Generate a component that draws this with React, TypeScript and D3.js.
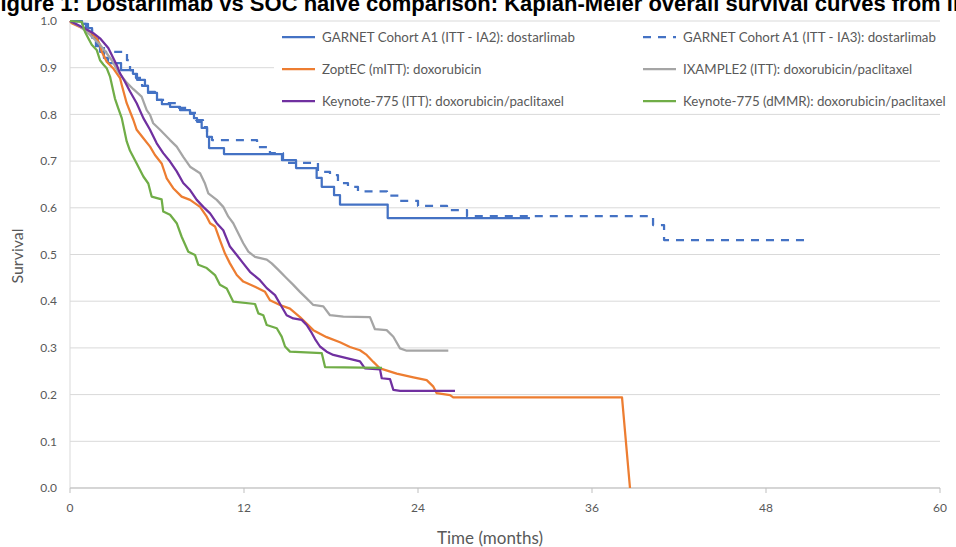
import React from "react";
import * as d3 from "d3";

const title = "Figure 1: Dostarlimab vs SOC naive comparison: Kaplan-Meier overall survival curves from literature";
const xTicks = [0, 12, 24, 36, 48, 60];
const yTicks = [0, 0.1, 0.2, 0.3, 0.4, 0.5, 0.6, 0.7, 0.8, 0.9, 1.0];

// [month, survival]
const garnetIA2: [number, number][] = [
  [0, 1.0], [0.83, 0.994], [1.24, 0.985], [1.52, 0.964], [1.79, 0.946], [2.07, 0.934], [2.34, 0.921],
  [2.62, 0.91], [3.52, 0.895], [4.34, 0.887], [4.62, 0.874], [5.17, 0.861], [5.38, 0.846], [6.0, 0.831],
  [6.34, 0.822], [6.9, 0.816], [7.59, 0.809], [8.28, 0.801], [8.55, 0.792], [8.76, 0.784], [9.08, 0.771],
  [9.45, 0.752], [9.59, 0.728], [10.62, 0.715], [14.62, 0.702], [15.59, 0.685], [17.01, 0.664],
  [17.36, 0.645], [18.21, 0.627], [18.62, 0.607], [21.91, 0.578], [31.72, 0.578],
];
const garnetIA3: [number, number][] = [
  [0, 1.0], [0.69, 0.994], [1.1, 0.981], [1.52, 0.964], [1.93, 0.946], [2.34, 0.934], [3.93, 0.916],
  [4.14, 0.895], [4.55, 0.878], [4.97, 0.861], [5.38, 0.848], [5.86, 0.831], [6.55, 0.824], [7.45, 0.814],
  [8.28, 0.803], [8.69, 0.788], [9.17, 0.773], [9.45, 0.762], [9.59, 0.752], [9.79, 0.745], [12.9, 0.73],
  [13.79, 0.717], [14.69, 0.696], [17.1, 0.677], [17.93, 0.67], [18.48, 0.653], [19.17, 0.645],
  [19.86, 0.635], [21.86, 0.626], [22.76, 0.615], [24.0, 0.604], [26.0, 0.595], [27.38, 0.582],
  [40.21, 0.563], [40.97, 0.531], [50.83, 0.531],
];
const zoptec: [number, number][] = [
  [0, 1.0], [0.12, 0.995], [1.38, 0.977], [1.84, 0.963], [2.07, 0.949], [2.19, 0.934], [2.53, 0.913],
  [2.97, 0.899], [3.45, 0.878], [3.57, 0.863], [3.91, 0.824], [4.37, 0.788], [4.6, 0.767], [5.06, 0.749],
  [5.52, 0.731], [5.86, 0.713], [6.32, 0.695], [6.55, 0.674], [6.67, 0.663], [7.12, 0.642], [7.7, 0.624],
  [8.28, 0.617], [8.97, 0.602], [9.43, 0.581], [9.66, 0.567], [10.0, 0.56], [10.34, 0.531], [10.69, 0.502],
  [11.03, 0.481], [11.5, 0.456], [11.95, 0.442], [12.76, 0.431], [13.45, 0.42], [13.79, 0.402],
  [14.48, 0.392], [15.17, 0.384], [15.86, 0.366], [16.32, 0.352], [16.78, 0.338], [17.7, 0.323],
  [18.62, 0.312], [19.31, 0.302], [20.0, 0.295], [20.46, 0.285], [20.92, 0.27], [21.38, 0.256],
  [22.53, 0.245], [23.68, 0.237], [24.6, 0.231], [25.06, 0.217], [25.29, 0.203], [26.21, 0.199],
  [26.43, 0.194], [38.07, 0.194], [38.62, 0.0],
];
const ixample2: [number, number][] = [
  [0, 1.0], [0.69, 0.988], [1.15, 0.977], [1.61, 0.963], [2.07, 0.949], [2.53, 0.931], [2.88, 0.916],
  [3.33, 0.891], [3.91, 0.868], [4.37, 0.854], [4.94, 0.838], [5.29, 0.809], [5.52, 0.799], [5.74, 0.781],
  [6.21, 0.767], [6.9, 0.745], [7.36, 0.731], [7.81, 0.709], [8.28, 0.688], [8.97, 0.674], [9.31, 0.652],
  [9.54, 0.631], [10.12, 0.617], [10.57, 0.602], [10.92, 0.581], [11.26, 0.567], [11.5, 0.552],
  [11.95, 0.524], [12.3, 0.506], [12.76, 0.495], [13.57, 0.489], [13.91, 0.481], [14.37, 0.467],
  [14.94, 0.449], [15.4, 0.435], [15.86, 0.42], [16.32, 0.406], [16.78, 0.392], [17.47, 0.389],
  [17.93, 0.37], [18.85, 0.367], [20.69, 0.366], [21.03, 0.34], [21.84, 0.338], [22.3, 0.324],
  [22.76, 0.299], [23.22, 0.294], [26.09, 0.294],
];
const keynoteITT: [number, number][] = [
  [0, 1.0], [1.03, 0.984], [1.61, 0.974], [2.07, 0.963], [2.64, 0.942], [2.99, 0.92], [3.22, 0.906],
  [3.45, 0.888], [3.79, 0.87], [4.14, 0.849], [4.6, 0.824], [5.06, 0.792], [5.52, 0.767], [5.98, 0.738],
  [6.43, 0.717], [6.9, 0.699], [7.36, 0.678], [7.81, 0.653], [8.28, 0.638], [8.74, 0.617], [9.19, 0.602],
  [9.66, 0.588], [10.12, 0.567], [10.57, 0.552], [11.03, 0.517], [11.5, 0.499], [11.95, 0.481],
  [12.41, 0.463], [13.1, 0.445], [13.57, 0.428], [14.14, 0.413], [14.6, 0.388], [14.94, 0.37],
  [15.4, 0.363], [15.98, 0.36], [16.32, 0.349], [16.67, 0.332], [16.9, 0.319], [17.24, 0.303],
  [17.7, 0.292], [18.16, 0.285], [19.08, 0.278], [20.0, 0.271], [20.34, 0.256], [21.38, 0.254],
  [21.5, 0.235], [22.07, 0.233], [22.3, 0.21], [22.76, 0.208], [26.55, 0.208],
];
const keynoteDMMR: [number, number][] = [
  [0, 1.0], [0.81, 0.998], [1.03, 0.977], [1.26, 0.963], [1.5, 0.949], [1.84, 0.938], [2.07, 0.916],
  [2.3, 0.907], [2.53, 0.899], [2.76, 0.881], [2.94, 0.856], [3.1, 0.834], [3.33, 0.813], [3.57, 0.792],
  [3.91, 0.742], [4.14, 0.722], [4.6, 0.695], [5.06, 0.667], [5.4, 0.652], [5.63, 0.624], [6.32, 0.618],
  [6.43, 0.592], [6.9, 0.585], [7.36, 0.567], [7.7, 0.538], [8.16, 0.506], [8.62, 0.499], [8.85, 0.478],
  [9.43, 0.471], [10.0, 0.456], [10.34, 0.435], [10.81, 0.427], [11.26, 0.399], [12.76, 0.394],
  [12.99, 0.374], [13.33, 0.37], [13.57, 0.349], [14.26, 0.342], [14.6, 0.324], [14.83, 0.303],
  [15.17, 0.292], [17.36, 0.289], [17.59, 0.259], [21.52, 0.257],
];

const seriesNames = [
  "GARNET Cohort A1 (ITT - IA2): dostarlimab",
  "GARNET Cohort A1 (ITT - IA3): dostarlimab",
  "ZoptEC (mITT): doxorubicin",
  "IXAMPLE2 (ITT): doxorubicin/paclitaxel",
  "Keynote-775 (ITT): doxorubicin/paclitaxel",
  "Keynote-775 (dMMR): doxorubicin/paclitaxel",
];
const seriesData = [garnetIA2, garnetIA3, zoptec, ixample2, keynoteITT, keynoteDMMR];
const seriesColors = ["#4472C4", "#4472C4", "#ED7D31", "#A5A5A5", "#7030A0", "#70AD47"];
const seriesDash = [null, "8,7", null, null, null, null];
const seriesStep = [true, true, false, false, false, false];

const W = 956;
const H = 547;
const FONT = "Lato, 'Open Sans', sans-serif";

export default function App() {
  const x = d3.scaleLinear().domain([0, 60]).range([70, 940]);
  const y = d3.scaleLinear().domain([0, 1]).range([488, 21]);

  const mkLine = (step: boolean) =>
    d3
      .line<[number, number]>()
      .x((d) => x(d[0]))
      .y((d) => y(d[1]))
      .curve(step ? d3.curveStepAfter : d3.curveLinear);

  const legendPos = [
    [282, 37],
    [643, 37],
    [282, 69],
    [643, 69],
    [282, 101],
    [643, 101],
  ];

  return (
    <svg
      width={W}
      height={H}
      style={{ position: "absolute", left: 0, top: 0, background: "#fff" }}
    >
      <rect x={0} y={0} width={W} height={H} fill="#fff" />
      {/* gridlines */}
      {yTicks.map((t) => (
        <line key={t} x1={70} x2={940} y1={y(t)} y2={y(t)} stroke="#d9d9d9" strokeWidth={1} />
      ))}
      {/* y axis line */}
      <line x1={70} x2={70} y1={21} y2={488} stroke="#d9d9d9" strokeWidth={1} />
      {/* x axis line + ticks */}
      <line x1={70} x2={940} y1={488} y2={488} stroke="#bfbfbf" strokeWidth={1} />
      {xTicks.map((t) => (
        <line key={t} x1={x(t)} x2={x(t)} y1={488} y2={493} stroke="#bfbfbf" strokeWidth={1} />
      ))}
      {/* y tick labels */}
      {yTicks.map((t) => (
        <text
          key={t}
          x={57}
          y={y(t)}
          dy="0.35em"
          textAnchor="end"
          fontFamily={FONT}
          fontSize={12}
          fill="#595959"
        >
          {t.toFixed(1)}
        </text>
      ))}
      {/* x tick labels */}
      {xTicks.map((t) => (
        <text
          key={t}
          x={x(t)}
          y={512}
          textAnchor="middle"
          fontFamily={FONT}
          fontSize={12}
          fill="#595959"
        >
          {t}
        </text>
      ))}
      {/* axis titles */}
      <text x={490} y={544} textAnchor="middle" fontFamily={FONT} fontSize={17} fill="#595959">
        Time (months)
      </text>
      <text
        transform="translate(23,256) rotate(-90)"
        textAnchor="middle"
        fontFamily={FONT}
        fontSize={16}
        fill="#595959"
      >
        Survival
      </text>
      {/* legend background */}
      <rect x={274} y={24} width={W - 274} height={88} fill="#fff" />
      {/* series */}
      {seriesData.map((d, i) => (
        <path
          key={i}
          d={mkLine(seriesStep[i])(d) || ""}
          fill="none"
          stroke={seriesColors[i]}
          strokeWidth={2.25}
          strokeDasharray={seriesDash[i] || undefined}
          strokeLinejoin="round"
        />
      ))}
      {/* legend */}
      {seriesNames.map((n, i) => (
        <g key={n} transform={`translate(${legendPos[i][0]},${legendPos[i][1]})`}>
          <line
            x1={0}
            x2={33}
            y1={0}
            y2={0}
            stroke={seriesColors[i]}
            strokeWidth={2.25}
            strokeDasharray={seriesDash[i] || undefined}
          />
          <text x={40} y={0} dy="0.35em" fontFamily={FONT} fontSize={13.3} fill="#595959">
            {n}
          </text>
        </g>
      ))}
      {/* title (cut off at top like the reference) */}
      <text
        x={-13}
        y={11}
        fontFamily="'Liberation Sans', Arial, sans-serif"
        fontWeight="bold"
        fontSize={22}
        fill="#000"
      >
        {title}
      </text>
    </svg>
  );
}
